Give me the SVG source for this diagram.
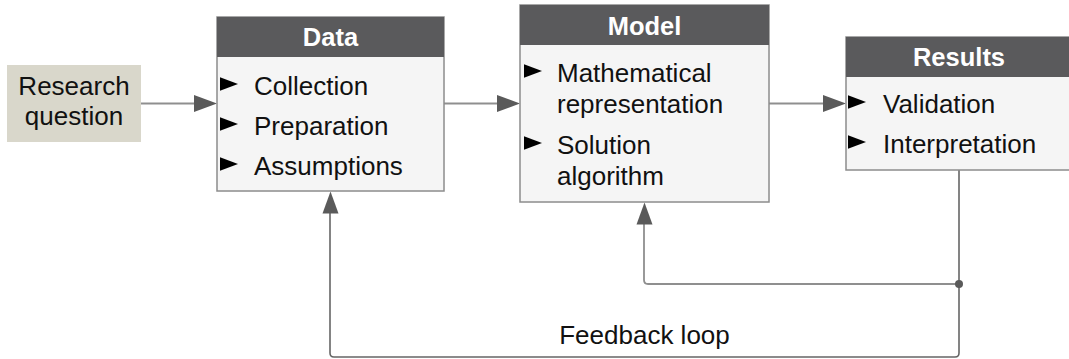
<svg xmlns="http://www.w3.org/2000/svg" width="1069" height="359" viewBox="0 0 1069 359">
<style>
.body{fill:#f5f5f5;stroke:#8c8c8c;stroke-width:1.5}
.head{fill:#5a5a5c}
.ht{font-family:"Liberation Sans",Arial,sans-serif;font-size:25.5px;font-weight:bold;fill:#ffffff;text-anchor:middle}
.t{font-family:"Liberation Sans",Arial,sans-serif;font-size:26px;fill:#111111}
.tc{text-anchor:middle}
.ln{fill:none;stroke:#8f8f8f;stroke-width:1.8}
.ln2{fill:none;stroke:#666666;stroke-width:1.6}
.ah{fill:#5a5a5a}
.bul{fill:#000000}
</style>
<defs>
<polygon id="tri" points="0,-17.8 18,-11 0,-4.2"/>
</defs>
<g id="connectors">
<line class="ln" x1="141" y1="103.5" x2="196" y2="103.5"/>
<polygon class="ah" points="194,95 217,103.5 194,112"/>
<line class="ln" x1="444" y1="103.5" x2="499" y2="103.5"/>
<polygon class="ah" points="497,95 520,103.5 497,112"/>
<line class="ln" x1="769" y1="103.5" x2="825" y2="103.5"/>
<polygon class="ah" points="823,95 846,103.5 823,112"/>
<path class="ln2" d="M959,170 V353 Q959,357 955,357 H334 Q330,357 330,353 V211"/>
<polygon class="ah" points="330.5,191.5 338.5,213.5 322.5,213.5"/>
<path class="ln" d="M959,284 H648 Q644,284 644,280 V222"/>
<polygon class="ah" points="644.5,202.5 652.5,224.5 636.5,224.5"/>
<circle cx="959" cy="284" r="4" fill="#5a5a5a"/>
<text class="t tc" x="644.5" y="344">Feedback loop</text>
</g>
<g id="research">
<rect x="7" y="65" width="134" height="77" fill="#d9d7cb"/>
<text class="t tc" x="74" y="95">Research</text>
<text class="t tc" x="74" y="125">question</text>
</g>
<g id="data">
<rect class="body" x="217" y="17" width="227" height="174"/>
<rect class="head" x="217" y="17" width="227" height="40"/>
<text class="ht" x="330.5" y="46">Data</text>
<use href="#tri" class="bul" x="220" y="95"/>
<text class="t" x="254" y="95">Collection</text>
<use href="#tri" class="bul" x="220" y="135"/>
<text class="t" x="254" y="135">Preparation</text>
<use href="#tri" class="bul" x="220" y="175"/>
<text class="t" x="254" y="175">Assumptions</text>
</g>
<g id="model">
<rect class="body" x="520" y="5" width="249" height="197"/>
<rect class="head" x="520" y="5" width="249" height="40"/>
<text class="ht" x="644.5" y="35">Model</text>
<use href="#tri" class="bul" x="524" y="82"/>
<text class="t" x="557" y="82">Mathematical</text>
<text class="t" x="557" y="113">representation</text>
<use href="#tri" class="bul" x="524" y="154"/>
<text class="t" x="557" y="154">Solution</text>
<text class="t" x="557" y="185">algorithm</text>
</g>
<g id="results">
<rect class="body" x="846" y="37" width="226" height="133"/>
<rect class="head" x="846" y="37" width="226" height="40"/>
<text class="ht" x="959" y="66">Results</text>
<use href="#tri" class="bul" x="848" y="113"/>
<text class="t" x="883" y="113">Validation</text>
<use href="#tri" class="bul" x="848" y="153"/>
<text class="t" x="883" y="153">Interpretation</text>
</g>
</svg>
